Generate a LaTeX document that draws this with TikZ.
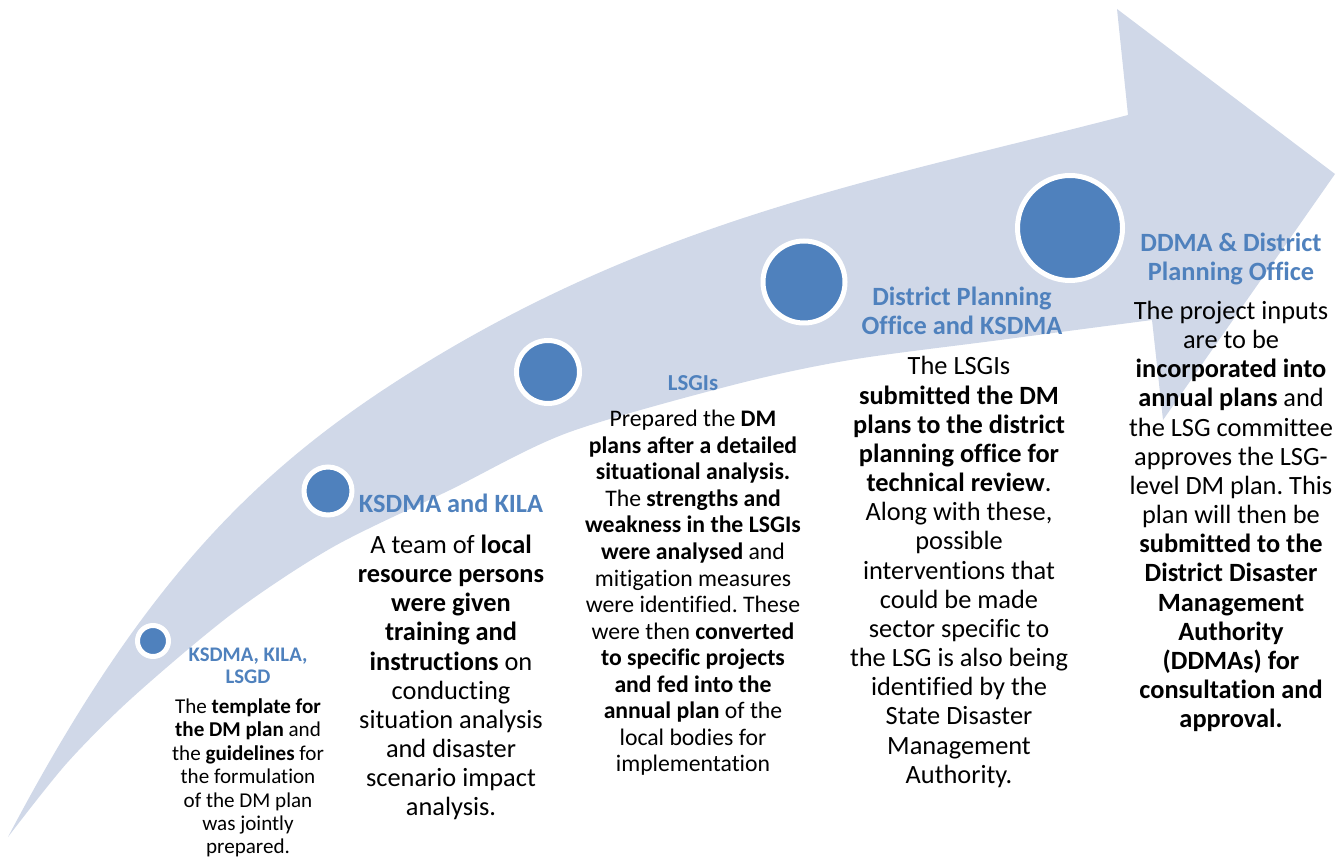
\documentclass[tikz,border=0pt]{standalone}
\usepackage{fontspec}
\setmainfont{Carlito}[Ligatures=NoCommon]
\frenchspacing
\definecolor{stageblue}{HTML}{4F81BD}
\definecolor{bandblue}{HTML}{D0D8E8}

\begin{document}
\begin{tikzpicture}[x=1cm,y=1cm]
    \tikzset{
        stage/.style={
            circle,
            fill=stageblue,
            draw=white,
            line width=0.1cm,
            inner sep=0pt
        },
        heading/.style={text=stageblue,align=center},
        note/.style={align=center}
    }
    \useasboundingbox (0,0) rectangle (26.82,17.20);

    % curved band ending in the arrow head
    \fill[bandblue] (0.16,0.46)
        .. controls (2.76,5.40) and (5.00,7.70) .. (8.00,9.62)
        .. controls (13.00,12.82) and (17.56,13.60) .. (22.56,14.90)
        -- (22.34,17.02) -- (26.70,13.72) -- (23.26,8.80)
        -- plot[smooth,tension=0.5] coordinates {
            (23.04,10.80) (20.00,10.40) (17.00,10.00) (14.66,9.50)
            (11.34,8.54) (9.00,7.40) (6.66,6.26) (4.66,4.94)
            (2.66,3.26) (1.34,1.94) (0.16,0.46)}
        -- cycle;

    % stages, growing along the band
    \node[stage,minimum size=0.62cm] (s1) at (3.06,4.38) {};
    \node[stage,minimum size=0.96cm] (s2) at (6.56,7.38) {};
    \node[stage,minimum size=1.26cm] (s3) at (10.96,9.76) {};
    \node[stage,minimum size=1.64cm] (s4) at (16.08,11.56) {};
    \node[stage,minimum size=2.10cm] (s5) at (21.40,12.64) {};

    \node[heading,font=\bfseries\fontsize{11.8}{12.5}\selectfont] (h1) at (4.96,3.88)
        {KSDMA, KILA,\\LSGD};
    \node[note,font=\fontsize{12}{13.3}\selectfont] (n1) at (4.96,1.64)
        {The \textbf{template for}\\
         \textbf{the DM plan} and\\
         the \textbf{guidelines} for\\
         the formulation\\
         of the DM plan\\
         was jointly\\
         prepared.};

    \node[heading,font=\bfseries\fontsize{15}{16.6}\selectfont] (h2) at (9.02,7.14)
        {KSDMA and KILA};
    \node[note,font=\fontsize{15}{16.6}\selectfont] (n2) at (9.02,3.65)
        {A team of \textbf{local}\\
         \textbf{resource persons}\\
         \textbf{were given}\\
         \textbf{training and}\\
         \textbf{instructions} on\\
         conducting\\
         situation analysis\\
         and disaster\\
         scenario impact\\
         analysis.};

    \node[heading,font=\bfseries\fontsize{13}{15}\selectfont] (h3) at (13.86,9.54)
        {LSGIs};
    \node[note,font=\fontsize{13.5}{15.1}\selectfont] (n3) at (13.86,5.34)
        {Prepared the \textbf{DM}\\
         \textbf{plans after a detailed}\\
         \textbf{situational analysis.}\\
         The \textbf{strengths and}\\
         \textbf{weakness in the LSGIs}\\
         \textbf{were analysed} and\\
         mitigation measures\\
         were identified. These\\
         were then \textbf{converted}\\
         \textbf{to specific projects}\\
         \textbf{and fed into the}\\
         \textbf{annual plan} of the\\
         local bodies for\\
         implementation};

    \node[heading,font=\bfseries\fontsize{15}{16.5}\selectfont] (h4) at (19.24,10.98)
        {District Planning\\Office and KSDMA};
    \node[note,font=\fontsize{15}{16.6}\selectfont] (n4) at (19.18,5.76)
        {The LSGIs\\
         \textbf{submitted the DM}\\
         \textbf{plans to the district}\\
         \textbf{planning office for}\\
         \textbf{technical review}.\\
         Along with these,\\
         possible\\
         interventions that\\
         could be made\\
         sector specific to\\
         the LSG is also being\\
         identified by the\\
         State Disaster\\
         Management\\
         Authority.};

    \node[heading,font=\bfseries\fontsize{15}{16.5}\selectfont] (h5) at (24.62,12.02)
        {DDMA \& District\\Planning Office};
    \node[note,font=\fontsize{15}{16.6}\selectfont] (n5) at (24.62,6.87)
        {The project inputs\\
         are to be\\
         \textbf{incorporated into}\\
         \textbf{annual plans} and\\
         the LSG committee\\
         approves the LSG-\\
         level DM plan. This\\
         plan will then be\\
         \textbf{submitted to the}\\
         \textbf{District Disaster}\\
         \textbf{Management}\\
         \textbf{Authority}\\
         \textbf{(DDMAs) for}\\
         \textbf{consultation and}\\
         \textbf{approval.}};
\end{tikzpicture}
\end{document}
